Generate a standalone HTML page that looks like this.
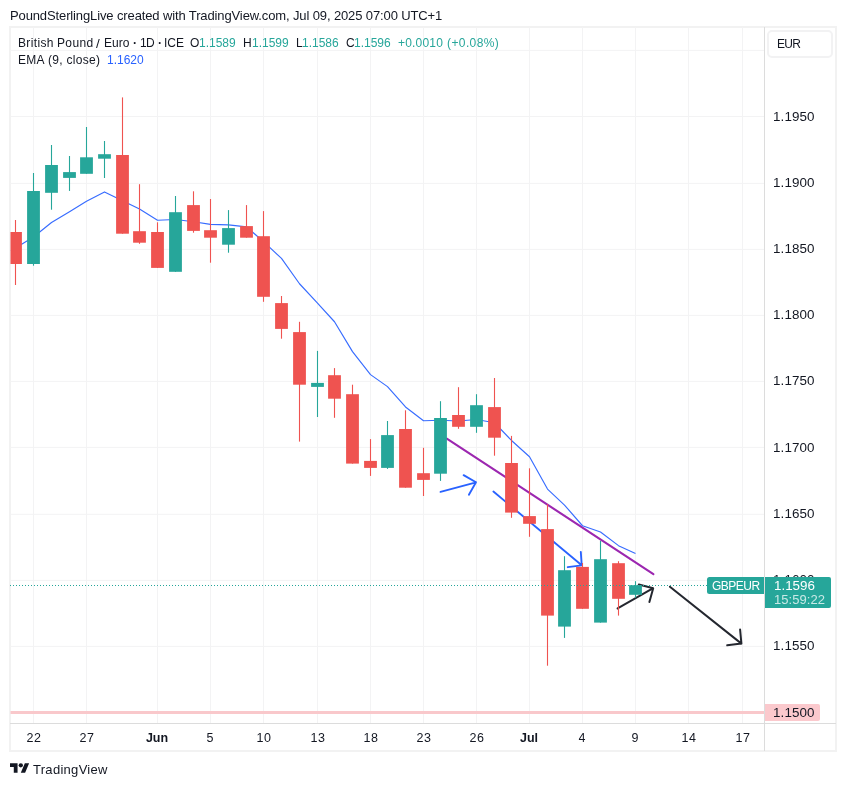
<!DOCTYPE html>
<html><head><meta charset="utf-8"><title>GBPEUR</title>
<style>
html,body{margin:0;padding:0;background:#fff;}
body{width:846px;height:786px;position:relative;overflow:hidden;font-family:"Liberation Sans",sans-serif;color:#131722;}
.t{position:absolute;white-space:nowrap;line-height:1;will-change:transform;}
#frame{position:absolute;left:9.3px;top:26.3px;width:827.6px;height:725.6px;box-sizing:border-box;border:2px solid #f2f2f2;}
#vsep{position:absolute;left:764px;top:27px;width:1px;height:724px;background:#dcdcdc;}
#hsep{position:absolute;left:10px;top:723px;width:826px;height:1px;background:#dcdcdc;}
svg{position:absolute;left:0;top:0;}
.g{color:#26a69a;}
.pl{font-size:13.4px;left:773.3px;letter-spacing:0.12px;}
.tl{font-size:12.5px;top:732px;transform:translateX(-50%);}
</style></head><body>
<div id="frame"></div>
<svg width="846" height="786" viewBox="0 0 846 786">
<rect x="33.00" y="27.5" width="1" height="696" fill="#f3f3f4"/>
<rect x="86.00" y="27.5" width="1" height="696" fill="#f3f3f4"/>
<rect x="157.00" y="27.5" width="1" height="696" fill="#f3f3f4"/>
<rect x="210.00" y="27.5" width="1" height="696" fill="#f3f3f4"/>
<rect x="263.00" y="27.5" width="1" height="696" fill="#f3f3f4"/>
<rect x="317.00" y="27.5" width="1" height="696" fill="#f3f3f4"/>
<rect x="370.00" y="27.5" width="1" height="696" fill="#f3f3f4"/>
<rect x="423.00" y="27.5" width="1" height="696" fill="#f3f3f4"/>
<rect x="476.00" y="27.5" width="1" height="696" fill="#f3f3f4"/>
<rect x="529.00" y="27.5" width="1" height="696" fill="#f3f3f4"/>
<rect x="582.00" y="27.5" width="1" height="696" fill="#f3f3f4"/>
<rect x="635.00" y="27.5" width="1" height="696" fill="#f3f3f4"/>
<rect x="688.00" y="27.5" width="1" height="696" fill="#f3f3f4"/>
<rect x="742.00" y="27.5" width="1" height="696" fill="#f3f3f4"/>
<rect x="10.5" y="49.90" width="754" height="1" fill="#f3f3f4"/>
<rect x="10.5" y="116.00" width="754" height="1" fill="#f3f3f4"/>
<rect x="10.5" y="182.90" width="754" height="1" fill="#f3f3f4"/>
<rect x="10.5" y="248.90" width="754" height="1" fill="#f3f3f4"/>
<rect x="10.5" y="314.90" width="754" height="1" fill="#f3f3f4"/>
<rect x="10.5" y="380.90" width="754" height="1" fill="#f3f3f4"/>
<rect x="10.5" y="446.90" width="754" height="1" fill="#f3f3f4"/>
<rect x="10.5" y="513.80" width="754" height="1" fill="#f3f3f4"/>
<rect x="10.5" y="579.90" width="754" height="1" fill="#f3f3f4"/>
<rect x="10.5" y="645.90" width="754" height="1" fill="#f3f3f4"/>
<rect x="10.5" y="711" width="754" height="3" fill="#f9c8cb"/>
<line x1="446.8" y1="438.7" x2="653.4" y2="574.1" stroke="#9c27b0" stroke-width="2.1" stroke-linecap="round"/>
<path d="M440.5 491.9L476.0 482.3M463.6 475.1L476.0 482.3L468.9 494.8" fill="none" stroke="#2962ff" stroke-width="1.85" stroke-linecap="round" stroke-linejoin="round"/>
<path d="M493.4 491.5L581.7 565.3M580.8 551.9L581.7 565.3L567.7 567.2" fill="none" stroke="#2962ff" stroke-width="1.85" stroke-linecap="round" stroke-linejoin="round"/>
<path d="M617.6 608.4L653.2 588.2M638.8 584.5L653.2 588.2L649.4 602.1" fill="none" stroke="#24272f" stroke-width="2" stroke-linecap="round" stroke-linejoin="round"/>
<path d="M669.9 586.7L741.4 643.6M740.1 629.5L741.4 643.6L727.2 645.3" fill="none" stroke="#24272f" stroke-width="2" stroke-linecap="round" stroke-linejoin="round"/>
<polyline points="11,251 15.5,247.95 33.5,237.05 51.5,222.55 69.5,211.85 86.5,201.25 104.5,191.95 122.5,200.65 139.5,209.05 157.5,220.25 175.5,219.45 193.5,221.75 210.5,224.35 228.5,224.85 246.5,226.85 263.5,241.65 281.5,258.45 299.5,283.75 317.5,303.05 334.5,321.75 352.5,351.65 370.5,374.65 387.5,386.65 405.5,406.95 423.5,420.75 440.5,420.25 458.5,421.05 476.5,419.55 494.5,422.75 511.5,440.45 529.5,456.75 547.5,489.05 564.5,505.05 582.5,525.75 600.5,531.95 618.5,545.65 635.5,553.45" fill="none" stroke="#376cff" stroke-width="1.15" stroke-linejoin="round"/>
<rect x="14.95" y="220" width="1.1" height="65.00" fill="#ef5350"/>
<rect x="10.50" y="232" width="11.40" height="32.00" fill="#ef5350"/>
<rect x="32.95" y="173" width="1.1" height="92.70" fill="#26a69a"/>
<rect x="27.10" y="191" width="12.80" height="73.00" fill="#26a69a"/>
<rect x="50.95" y="145" width="1.1" height="64.70" fill="#26a69a"/>
<rect x="45.10" y="165" width="12.80" height="27.80" fill="#26a69a"/>
<rect x="68.95" y="156" width="1.1" height="34.90" fill="#26a69a"/>
<rect x="63.10" y="172.1" width="12.80" height="5.80" fill="#26a69a"/>
<rect x="85.95" y="127" width="1.1" height="46.80" fill="#26a69a"/>
<rect x="80.10" y="157.3" width="12.80" height="16.50" fill="#26a69a"/>
<rect x="103.95" y="141" width="1.1" height="37.00" fill="#26a69a"/>
<rect x="98.10" y="154.2" width="12.80" height="4.50" fill="#26a69a"/>
<rect x="121.95" y="97.4" width="1.1" height="136.30" fill="#ef5350"/>
<rect x="116.10" y="155" width="12.80" height="78.70" fill="#ef5350"/>
<rect x="138.95" y="184.2" width="1.1" height="59.60" fill="#ef5350"/>
<rect x="133.10" y="231.2" width="12.80" height="11.50" fill="#ef5350"/>
<rect x="156.95" y="222.3" width="1.1" height="45.60" fill="#ef5350"/>
<rect x="151.10" y="232" width="12.80" height="35.90" fill="#ef5350"/>
<rect x="174.95" y="196" width="1.1" height="75.80" fill="#26a69a"/>
<rect x="169.10" y="212.2" width="12.80" height="59.60" fill="#26a69a"/>
<rect x="192.95" y="191.3" width="1.1" height="41.40" fill="#ef5350"/>
<rect x="187.10" y="205.1" width="12.80" height="25.80" fill="#ef5350"/>
<rect x="209.95" y="199" width="1.1" height="63.70" fill="#ef5350"/>
<rect x="204.10" y="230.2" width="12.80" height="7.50" fill="#ef5350"/>
<rect x="227.95" y="210.1" width="1.1" height="42.60" fill="#26a69a"/>
<rect x="222.10" y="228.1" width="12.80" height="16.60" fill="#26a69a"/>
<rect x="245.95" y="205.1" width="1.1" height="32.60" fill="#ef5350"/>
<rect x="240.10" y="226.1" width="12.80" height="11.60" fill="#ef5350"/>
<rect x="262.95" y="211.1" width="1.1" height="90.70" fill="#ef5350"/>
<rect x="257.10" y="236.2" width="12.80" height="60.60" fill="#ef5350"/>
<rect x="280.95" y="296" width="1.1" height="42.70" fill="#ef5350"/>
<rect x="275.10" y="303.1" width="12.80" height="25.80" fill="#ef5350"/>
<rect x="298.95" y="321.8" width="1.1" height="119.80" fill="#ef5350"/>
<rect x="293.10" y="332.1" width="12.80" height="52.60" fill="#ef5350"/>
<rect x="316.95" y="350.9" width="1.1" height="66.10" fill="#26a69a"/>
<rect x="311.10" y="382.9" width="12.80" height="4.00" fill="#26a69a"/>
<rect x="333.95" y="368.1" width="1.1" height="49.70" fill="#ef5350"/>
<rect x="328.10" y="375.2" width="12.80" height="23.50" fill="#ef5350"/>
<rect x="351.95" y="384.7" width="1.1" height="78.90" fill="#ef5350"/>
<rect x="346.10" y="394.2" width="12.80" height="69.40" fill="#ef5350"/>
<rect x="369.95" y="439.1" width="1.1" height="36.80" fill="#ef5350"/>
<rect x="364.10" y="460.9" width="12.80" height="7.00" fill="#ef5350"/>
<rect x="386.95" y="421" width="1.1" height="47.90" fill="#26a69a"/>
<rect x="381.10" y="435.1" width="12.80" height="32.80" fill="#26a69a"/>
<rect x="404.95" y="410.3" width="1.1" height="77.40" fill="#ef5350"/>
<rect x="399.10" y="429" width="12.80" height="58.70" fill="#ef5350"/>
<rect x="422.95" y="447.8" width="1.1" height="48.20" fill="#ef5350"/>
<rect x="417.10" y="473.2" width="12.80" height="6.70" fill="#ef5350"/>
<rect x="439.95" y="401.2" width="1.1" height="79.70" fill="#26a69a"/>
<rect x="434.10" y="418" width="12.80" height="55.70" fill="#26a69a"/>
<rect x="457.95" y="387.2" width="1.1" height="41.60" fill="#ef5350"/>
<rect x="452.10" y="415" width="12.80" height="11.80" fill="#ef5350"/>
<rect x="475.95" y="394.2" width="1.1" height="38.60" fill="#26a69a"/>
<rect x="470.10" y="405.2" width="12.80" height="21.60" fill="#26a69a"/>
<rect x="493.95" y="378" width="1.1" height="77.70" fill="#ef5350"/>
<rect x="488.10" y="407.1" width="12.80" height="30.60" fill="#ef5350"/>
<rect x="510.95" y="435.9" width="1.1" height="81.90" fill="#ef5350"/>
<rect x="505.10" y="463" width="12.80" height="49.60" fill="#ef5350"/>
<rect x="528.95" y="468.3" width="1.1" height="68.50" fill="#ef5350"/>
<rect x="523.10" y="516.1" width="12.80" height="7.70" fill="#ef5350"/>
<rect x="546.95" y="504.2" width="1.1" height="161.50" fill="#ef5350"/>
<rect x="541.10" y="529.1" width="12.80" height="86.50" fill="#ef5350"/>
<rect x="563.95" y="556.2" width="1.1" height="81.70" fill="#26a69a"/>
<rect x="558.10" y="570.2" width="12.80" height="56.40" fill="#26a69a"/>
<rect x="581.95" y="563" width="1.1" height="45.80" fill="#ef5350"/>
<rect x="576.10" y="566.9" width="12.80" height="41.90" fill="#ef5350"/>
<rect x="599.95" y="540.9" width="1.1" height="81.70" fill="#26a69a"/>
<rect x="594.10" y="559.2" width="12.80" height="63.40" fill="#26a69a"/>
<rect x="617.95" y="561.2" width="1.1" height="54.40" fill="#ef5350"/>
<rect x="612.10" y="563.2" width="12.80" height="35.60" fill="#ef5350"/>
<rect x="634.95" y="581.2" width="1.1" height="16.60" fill="#26a69a"/>
<rect x="629.10" y="585.2" width="12.80" height="9.60" fill="#26a69a"/>
<line x1="10" y1="585.5" x2="707" y2="585.5" stroke="#26a69a" stroke-width="1" stroke-dasharray="1 2"/>
</svg>
<div id="vsep"></div><div id="hsep"></div>
<div class="t" id="hdr" style="left:10.3px;top:9px;font-size:13px;letter-spacing:-0.122px;">PoundSterlingLive created with TradingView.com, Jul 09, 2025 07:00 UTC+1</div>
<div class="t" style="left:17.8px;top:37px;font-size:12px;letter-spacing:0.36px;">British</div><div class="t" style="left:57.2px;top:37px;font-size:12px;letter-spacing:0.35px;">Pound</div><div class="t" style="left:96.2px;top:37px;font-size:12px;letter-spacing:0px;"><span style="font-size:13.5px;position:relative;top:-0.5px">/</span></div><div class="t" style="left:103.5px;top:37px;font-size:12px;letter-spacing:0px;">Euro</div><div class="t" style="left:133.2px;top:37px;font-size:12px;letter-spacing:0px;"><b>·</b></div><div class="t" style="left:139.7px;top:37px;font-size:12px;letter-spacing:-0.7px;">1D</div><div class="t" style="left:158.3px;top:37px;font-size:12px;letter-spacing:0px;"><b>·</b></div><div class="t" style="left:163.7px;top:37px;font-size:12px;letter-spacing:-0.05px;">ICE</div>
<div class="t" style="left:190px;top:37px;font-size:12px;">O</div><div class="t g" style="left:199px;top:37px;font-size:12px;">1.1589</div>
<div class="t" style="left:243px;top:37px;font-size:12px;">H</div><div class="t g" style="left:252px;top:37px;font-size:12px;">1.1599</div>
<div class="t" style="left:295.5px;top:37px;font-size:12px;">L</div><div class="t g" style="left:302px;top:37px;font-size:12px;">1.1586</div>
<div class="t" style="left:345.5px;top:37px;font-size:12px;">C</div><div class="t g" style="left:354px;top:37px;font-size:12px;">1.1596</div>
<div class="t g" style="left:398px;top:37px;font-size:12px;letter-spacing:0.2px;">+0.0010</div>
<div class="t g" style="left:446.7px;top:37px;font-size:12px;letter-spacing:0.4px;">(+0.08%)</div>
<div class="t" id="l2" style="left:18.2px;top:54px;font-size:12px;letter-spacing:0.3px;">EMA (9, close)</div>
<div class="t" style="left:107px;top:54px;font-size:12px;color:#2962ff;">1.1620</div>
<div class="t pl" style="top:110px;">1.1950</div>
<div class="t pl" style="top:176px;">1.1900</div>
<div class="t pl" style="top:242px;">1.1850</div>
<div class="t pl" style="top:308px;">1.1800</div>
<div class="t pl" style="top:374px;">1.1750</div>
<div class="t pl" style="top:441px;">1.1700</div>
<div class="t pl" style="top:507px;">1.1650</div>
<div class="t pl" style="top:573px;">1.1600</div>
<div class="t pl" style="top:639px;">1.1550</div>
<div class="t tl" style="left:32.6px;letter-spacing:0.6px;margin-left:1.1px;">22</div>
<div class="t tl" style="left:85.6px;letter-spacing:0.6px;margin-left:1.1px;">27</div>
<div class="t tl" style="left:156.6px;"><b>Jun</b></div>
<div class="t tl" style="left:209.6px;">5</div>
<div class="t tl" style="left:262.6px;letter-spacing:0.6px;margin-left:1.1px;">10</div>
<div class="t tl" style="left:316.6px;letter-spacing:0.6px;margin-left:1.1px;">13</div>
<div class="t tl" style="left:369.6px;letter-spacing:0.6px;margin-left:1.1px;">18</div>
<div class="t tl" style="left:422.6px;letter-spacing:0.6px;margin-left:1.1px;">23</div>
<div class="t tl" style="left:475.6px;letter-spacing:0.6px;margin-left:1.1px;">26</div>
<div class="t tl" style="left:528.6px;"><b>Jul</b></div>
<div class="t tl" style="left:581.6px;">4</div>
<div class="t tl" style="left:634.6px;">9</div>
<div class="t tl" style="left:687.6px;letter-spacing:0.6px;margin-left:1.1px;">14</div>
<div class="t tl" style="left:741.6px;letter-spacing:0.6px;margin-left:1.1px;">17</div>
<div id="eur" style="position:absolute;left:767.4px;top:30.1px;width:65.4px;height:27.7px;box-sizing:border-box;border:2px solid #f2f2f3;border-radius:5px;"></div>
<div class="t" style="left:777px;top:37.7px;font-size:12px;letter-spacing:-0.7px;">EUR</div>
<div style="position:absolute;left:765px;top:704.2px;width:54.9px;height:16.6px;background:#fbc9cd;border-radius:0 2px 2px 0;"></div>
<div class="t" style="left:773.3px;top:706px;font-size:13.4px;letter-spacing:0.12px;">1.1500</div>
<div style="position:absolute;left:707px;top:577.2px;width:57px;height:16.7px;background:#26a69a;border-radius:2.5px 0 0 2.5px;"></div>
<div class="t" style="left:712px;top:580px;font-size:12px;color:#fff;letter-spacing:-0.5px;">GBPEUR</div>
<div style="position:absolute;left:765px;top:577px;width:66px;height:30.8px;background:#26a69a;border-radius:0 2px 2px 0;"></div>
<div class="t" style="left:774.2px;top:579px;font-size:13.4px;color:#fff;letter-spacing:0px;">1.1596</div>
<div class="t" style="left:774.4px;top:593px;font-size:13px;color:rgba(255,255,255,0.75);letter-spacing:0.05px;">15:59:22</div>
<svg style="left:9.9px;top:761px;" width="19.44" height="15.12" viewBox="0 0 36 28"><path d="M14 22H7V11H0V4h14v18zM28 22h-8l7.5-18h8L28 22z" fill="#131722"/><circle cx="20" cy="8" r="4" fill="#131722"/></svg>
<div class="t" id="tv" style="left:32.6px;top:762.6px;font-size:13px;letter-spacing:0.29px;color:#131722;">TradingView</div>
</body></html>
